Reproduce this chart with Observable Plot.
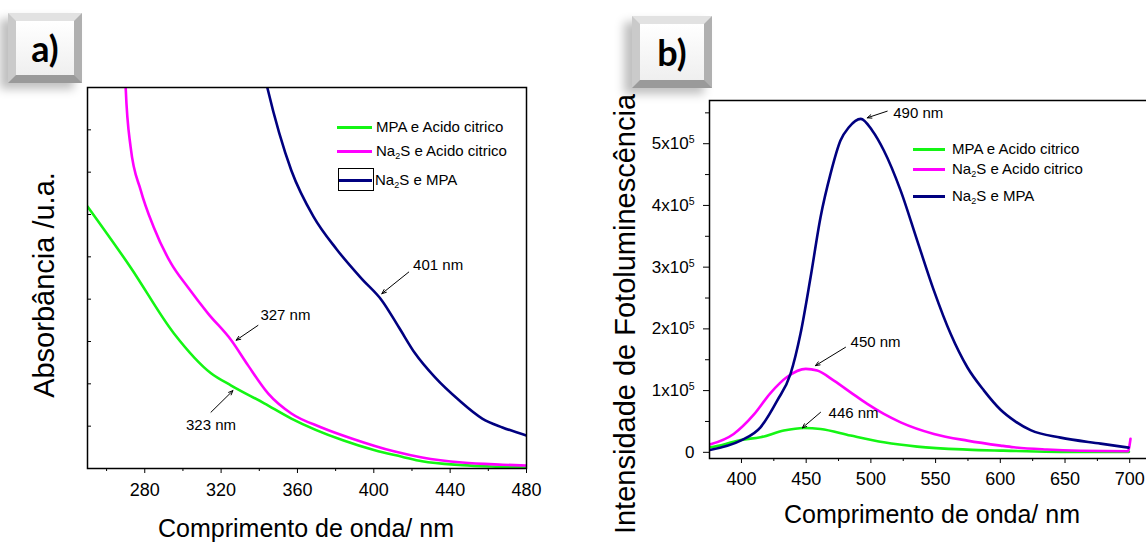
<!DOCTYPE html>
<html><head><meta charset="utf-8">
<script src="https://cdn.jsdelivr.net/npm/d3@7"></script>
<script src="https://cdn.jsdelivr.net/npm/@observablehq/plot@0.6"></script>
<style>
html,body{margin:0;padding:0;background:#fff;overflow:hidden;}
#wrap{position:relative;width:1146px;height:542px;font-family:"Liberation Sans",Arial,sans-serif;color:#000;overflow:hidden;}
.panel{position:absolute;top:0;}
.badge{position:absolute;box-sizing:border-box;border-style:solid;border-width:8px;
 border-top-color:#e2e2e2;border-left-color:#cacaca;border-right-color:#b0b0b0;border-bottom-color:#9a9a9a;
 background:linear-gradient(#ffffff,#efefef);box-shadow:-8px 6px 9px rgba(0,0,0,0.25);
 display:flex;align-items:center;justify-content:center;font-family:Lato,"Open Sans",sans-serif;font-weight:bold;font-size:36px;line-height:1;}
.title{position:absolute;white-space:nowrap;line-height:1;}
.lrow{position:absolute;white-space:nowrap;font-size:15px;line-height:1;}
.lrow sub{font-size:9px;vertical-align:-3px;}
.sw{position:absolute;height:0;border-top:3px solid;}
.swbox{position:absolute;border:1px solid #000;box-sizing:border-box;}
</style></head>
<body><div id="wrap"></div>
<script>
// ---------- Data: panel a) absorbance (arbitrary units) ----------
const absWl_mpaCit = [250, 272.6, 295.3, 314.7, 325.3, 342.6, 356.8, 384.2, 400.5, 414.7, 425.3, 446.3, 467.4, 480];
const abs_mpaCit   = [6.19, 4.75, 3.19, 2.25, 1.96, 1.54, 1.18, 0.66, 0.43, 0.28, 0.17, 0.08, 0.04, 0.02];
const absWl_na2sCit = [269.5, 270, 272.6, 277.9, 284.7, 293.7, 302.6, 313.2, 325.3, 334.2, 344.7, 356.8, 372.6, 388.4, 411, 425.3, 446.3, 467.4, 480];
const abs_na2sCit   = [9.65, 9.0, 7.59, 6.57, 5.70, 4.85, 4.28, 3.66, 3.03, 2.43, 1.77, 1.30, 0.97, 0.71, 0.40, 0.26, 0.14, 0.09, 0.07];
const absWl_na2sMpa = [342.1, 344.2, 356.8, 368.4, 380.5, 393.7, 404.2, 413.2, 421.6, 432.1, 444.7, 456.8, 467.4, 480];
const abs_na2sMpa   = [9.41, 9.0, 7.04, 5.95, 5.18, 4.48, 3.97, 3.33, 2.72, 2.15, 1.61, 1.18, 0.97, 0.78];
const absMajorTicks = [280, 320, 360, 400, 440, 480];
const absMinorTicks = [260, 300, 340, 380, 420, 460];
const absYTicks = [0, 1, 2, 3, 4, 5, 6, 7, 8, 9];
const absNoteLabels = ["323 nm", "327 nm", "401 nm"];
const absNoteTextX = [314.7, 353.7, 433.7];
const absNoteTextY = [1.02, 3.62, 4.80];
const absNoteTailX = [314.7, 339.3, 418.3];
const absNoteTailY = [1.33, 3.38, 4.64];
const absNoteHeadX = [326.2, 327.9, 404.2];
const absNoteHeadY = [1.84, 3.03, 4.13];

// ---------- Data: panel b) photoluminescence ----------
const plWl_mpaCit = [375.5, 385, 399.3, 414.7, 432.7, 448.2, 461.1, 484.3, 510, 535.8, 574.5, 600.2, 662, 699.4];
const pl_mpaCit   = [8100, 12000, 20100, 24300, 35200, 39500, 37900, 27100, 16200, 9200, 4400, 2800, 500, 800];
const plWl_na2sCit = [375.5, 394, 409.5, 422.4, 435.2, 449.7, 458.5, 471.4, 484.3, 497.2, 510, 523, 548.7, 574.5, 600.2, 610.5, 636, 662, 698.6, 700.6];
const pl_na2sCit   = [12500, 29800, 61000, 96000, 122000, 135200, 132400, 116200, 97200, 78400, 62200, 48600, 29800, 19000, 10900, 8100, 4500, 2600, 1800, 22000];
const plWl_na2sMpa = [375.5, 399.3, 414.7, 427.6, 437.9, 445.6, 453.4, 461.1, 468.8, 476.5, 483, 492.2, 501, 510, 523, 535.8, 548.7, 561.6, 574.5, 587.4, 600.2, 611, 623.4, 646.6, 677.5, 699.1];
const pl_na2sMpa   = [3900, 19000, 40500, 83800, 127000, 192000, 283600, 380900, 451000, 505000, 526700, 540300, 521400, 489000, 424000, 343100, 262000, 192000, 137800, 100000, 69000, 51000, 36000, 23800, 14100, 7600];
const plMajorXTicks = [400, 450, 500, 550, 600, 650, 700];
const plMinorXTicks = [425, 475, 525, 575, 625, 675];
const plMajorYTicks = [0, 100000, 200000, 300000, 400000, 500000];
const plMinorYTicks = [50000, 150000, 250000, 350000, 450000, 550000];
const plNoteLabels = ["490 nm", "450 nm", "446 nm"];
const plNoteTextX = [517.3, 484.3, 467.3];
const plNoteTextY = [549000, 178300, 63200];
const plNoteTailX = [512.6, 480.4, 461.1];
const plNoteTailY = [552700, 170200, 64800];
const plNoteHeadX = [497.2, 457.2, 447];
const plNoteHeadY = [542000, 140500, 39500];

const seriesNames = ["MPA e Acido citrico", "Na2S e Acido citrico", "Na2S e MPA"];
const seriesColors = ["#14f514", "#ff00ff", "#000080"];

// ---------- helpers ----------
const zip = (xs, ys) => xs.map((x, i) => ({x, y: ys[i]}));
const notes = (lab, tx, ty, x1, y1, x2, y2) => lab.map((l, i) => ({label: l, tx: tx[i], ty: ty[i], x1: x1[i], y1: y1[i], x2: x2[i], y2: y2[i]}));
const font = "Liberation Sans, Arial, sans-serif";
const wrap = document.getElementById("wrap");

// ---------- Panel a ----------
const absSeries = [zip(absWl_mpaCit, abs_mpaCit), zip(absWl_na2sCit, abs_na2sCit), zip(absWl_na2sMpa, abs_na2sMpa)];
const absNotes = notes(absNoteLabels, absNoteTextX, absNoteTextY, absNoteTailX, absNoteTailY, absNoteHeadX, absNoteHeadY);
const plotA = Plot.plot({
  width: 560, height: 542,
  marginLeft: 87, marginRight: 34, marginTop: 87, marginBottom: 74,
  style: {fontFamily: font, color: "#000", background: "transparent"},
  x: {domain: [250, 480], label: null},
  y: {domain: [0, 9], label: null},
  marks: [
    ...absSeries.map((d, i) => Plot.line(d, {x: "x", y: "y", stroke: seriesColors[i], strokeWidth: 2.6, curve: "monotone-x", clip: true})),
    Plot.axisX(absMajorTicks, {tickSize: 5, tickPadding: 10, fontSize: 18, label: null}),
    Plot.axisX(absMinorTicks, {tickSize: 3, tickFormat: () => "", label: null}),
    Plot.axisY(absYTicks, {tickSize: -4, tickFormat: () => "", label: null}),
    Plot.frame({stroke: "#000", strokeWidth: 1.5}),
    Plot.arrow(absNotes, {x1: "x1", y1: "y1", x2: "x2", y2: "y2", stroke: "#000", strokeWidth: 1, headLength: 7, headAngle: 45}),
    Plot.text(absNotes, {x: "tx", y: "ty", text: "label", fontSize: 15, textAnchor: "middle"})
  ]
});
plotA.classList.add("panel"); plotA.style.left = "0px";
wrap.appendChild(plotA);

// ---------- Panel b ----------
const plSeries = [zip(plWl_mpaCit, pl_mpaCit), zip(plWl_na2sCit, pl_na2sCit), zip(plWl_na2sMpa, pl_na2sMpa)];
const plNotes = notes(plNoteLabels, plNoteTextX, plNoteTextY, plNoteTailX, plNoteTailY, plNoteHeadX, plNoteHeadY);
const plotB = Plot.plot({
  width: 600, height: 542,
  marginLeft: 149, marginRight: 1, marginTop: 100, marginBottom: 84,
  style: {fontFamily: font, color: "#000", background: "transparent"},
  x: {domain: [375.3, 723], label: null},
  y: {domain: [-10000, 570000], label: null},
  marks: [
    ...plSeries.map((d, i) => Plot.line(d, {x: "x", y: "y", stroke: seriesColors[i], strokeWidth: 2.6, curve: "monotone-x", clip: true})),
    Plot.axisX(plMajorXTicks, {tickSize: 5, tickPadding: 9, fontSize: 18, label: null}),
    Plot.axisX(plMinorXTicks, {tickSize: 3, tickFormat: () => "", label: null}),
    Plot.axisY(plMajorYTicks, {tickSize: 6, tickPadding: 9, fontSize: 17, label: null,
      tickFormat: d => d === 0 ? "0" : `${d / 100000}x10^5`}),
    Plot.axisY(plMinorYTicks, {tickSize: 4, tickFormat: () => "", label: null}),
    Plot.frame({stroke: "#000", strokeWidth: 1.5}),
    Plot.arrow(plNotes, {x1: "x1", y1: "y1", x2: "x2", y2: "y2", stroke: "#000", strokeWidth: 1, headLength: 7, headAngle: 45}),
    Plot.text(plNotes, {x: "tx", y: "ty", text: "label", fontSize: 15, textAnchor: "start"})
  ]
});
plotB.classList.add("panel"); plotB.style.left = "560px";
wrap.appendChild(plotB);

// superscript exponents in tick labels
plotB.querySelectorAll('[aria-label="y-axis tick label"] text').forEach(t => {
  const s = t.textContent;
  if (s.includes("^")) {
    const [base, exp] = s.split("^");
    t.textContent = "";
    const a = document.createElementNS("http://www.w3.org/2000/svg", "tspan");
    a.textContent = base; t.appendChild(a);
    const b = document.createElementNS("http://www.w3.org/2000/svg", "tspan");
    b.textContent = exp; b.setAttribute("dy", "-0.55em"); b.setAttribute("font-size", "0.62em");
    t.appendChild(b);
  }
});

// ---------- Titles ----------
function addTitle(text, x, y, size, rotate) {
  const d = document.createElement("div");
  d.className = "title"; d.textContent = text;
  d.style.fontSize = size + "px";
  d.style.left = x + "px"; d.style.top = y + "px";
  d.style.transform = rotate ? "translate(-50%,-50%) rotate(-90deg)" : "translateX(-50%)";
  wrap.appendChild(d);
}
addTitle("Comprimento de onda/ nm", 306, 516, 25, false);
addTitle("Comprimento de onda/ nm", 932, 502, 25, false);
addTitle("Absorbância /u.a.", 44, 285, 29, true);
addTitle("Intensidade de Fotoluminescência", 625, 314, 29, true);

// ---------- Legends ----------
function legendRow(nameIdx, lineX1, lineX2, textX, cy, boxed) {
  const sw = document.createElement("div");
  sw.className = "sw";
  sw.style.left = lineX1 + "px"; sw.style.width = (lineX2 - lineX1) + "px";
  sw.style.top = (cy - 1.5) + "px"; sw.style.borderTopColor = seriesColors[nameIdx];
  wrap.appendChild(sw);
  if (boxed) {
    const bx = document.createElement("div");
    bx.className = "swbox";
    bx.style.left = (lineX1) + "px"; bx.style.width = (lineX2 - lineX1 + 2) + "px";
    bx.style.top = (cy - 12) + "px"; bx.style.height = "23px";
    wrap.appendChild(bx);
  }
  const r = document.createElement("div");
  r.className = "lrow";
  r.innerHTML = seriesNames[nameIdx].replace("Na2S", "Na<sub>2</sub>S");
  r.style.left = textX + "px"; r.style.top = (cy - 8) + "px";
  wrap.appendChild(r);
}
legendRow(0, 337, 372, 376, 127, false);
legendRow(1, 337, 372, 376, 151, false);
legendRow(2, 338, 372, 375, 180, true);
legendRow(0, 913, 945, 952, 149, false);
legendRow(1, 913, 945, 952, 169, false);
legendRow(2, 913, 945, 952, 196, false);

// ---------- Panel badges ----------
function badge(text, x, y, w, h) {
  const b = document.createElement("div");
  b.className = "badge"; b.textContent = text;
  b.style.left = x + "px"; b.style.top = y + "px";
  b.style.width = w + "px"; b.style.height = h + "px";
  wrap.appendChild(b);
}
badge("a)", 8, 13, 74, 70);
badge("b)", 632, 16, 80, 72);
</script>
</body></html>
